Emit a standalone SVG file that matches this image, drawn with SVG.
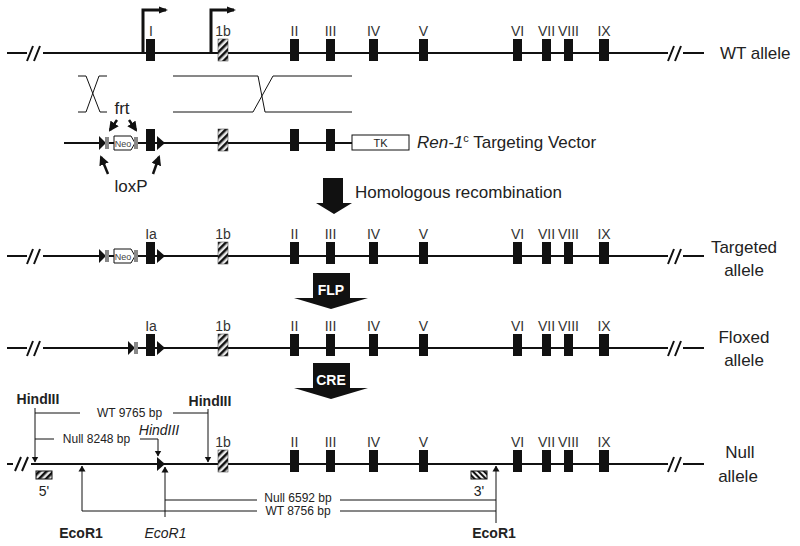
<svg xmlns="http://www.w3.org/2000/svg" width="800" height="546" viewBox="0 0 800 546">
<style>
.ln{stroke:#111;stroke-width:2;fill:none}
.thin{stroke:#111;stroke-width:1;fill:none}
.ex{fill:#111}
.hx{fill:url(#hatchF);stroke:#333;stroke-width:0.5}
.frt{fill:#888}
.lox{fill:#111}
.lbl{font-family:"Liberation Sans",Arial,sans-serif;font-size:14px;fill:#333;text-anchor:middle}
.big{font-family:"Liberation Sans",Arial,sans-serif;font-size:17px;fill:#222}
.bp{font-family:"Liberation Sans",Arial,sans-serif;font-size:12px;fill:#222;text-anchor:middle}
.site{font-family:"Liberation Sans",Arial,sans-serif;font-size:14px;fill:#222;text-anchor:middle}
.blk{font-family:"Liberation Sans",Arial,sans-serif;font-size:14px;font-weight:bold;fill:#fff;text-anchor:middle}
</style>
<defs>
<pattern id="hatchF" width="5" height="5" patternUnits="userSpaceOnUse" patternTransform="rotate(45)">
<rect width="5" height="5" fill="#e8e8e8"/><rect width="2.5" height="5" fill="#111"/>
</pattern>
<pattern id="hatchB" width="4" height="4" patternUnits="userSpaceOnUse" patternTransform="rotate(-45)">
<rect width="4" height="4" fill="#f2f2f2"/><rect width="2" height="4" fill="#111"/>
</pattern>
<marker id="ah" markerWidth="10" markerHeight="10" refX="8" refY="5" orient="auto" markerUnits="userSpaceOnUse">
<path d="M0,0 L10,5 L0,10 Z" fill="#111"/>
</marker>
<marker id="ahT" markerWidth="9" markerHeight="8" refX="7" refY="4" orient="auto" markerUnits="userSpaceOnUse">
<path d="M0,0.5 L9,4 L0,7.5 Z" fill="#111"/>
</marker>
<marker id="ahS" markerWidth="6" markerHeight="8" refX="5.5" refY="4" orient="auto" markerUnits="userSpaceOnUse">
<path d="M0,0.5 L6,4 L0,7.5 Z" fill="#111"/>
</marker>
</defs>
<rect width="800" height="546" fill="#fff"/>

<!-- WT allele -->
<g id="wt-allele">
<path class="ln" d="M7,53 H27 M43,53 H668 M683,53 H704"/>
<path class="ln" d="M27,61 L33,46 M34,61 L40,46 M668,61 L674,46 M675,61 L681,46" stroke-width="1.5"/>
<path d="M143,53 V10 H166" stroke="#111" stroke-width="3" fill="none" marker-end="url(#ahT)"/>
<path d="M211,53 V10 H234" stroke="#111" stroke-width="3" fill="none" marker-end="url(#ahT)"/>
<rect class="ex" x="146" y="39" width="9" height="22"/>
<rect class="hx" x="218" y="39" width="10" height="22"/>
<rect class="ex" x="290" y="39" width="9" height="22"/>
<rect class="ex" x="326" y="39" width="9" height="22"/>
<rect class="ex" x="369" y="39" width="9" height="22"/>
<rect class="ex" x="419" y="39" width="9" height="22"/>
<rect class="ex" x="513" y="39" width="9" height="22"/>
<rect class="ex" x="542" y="39" width="9" height="22"/>
<rect class="ex" x="564" y="39" width="9" height="22"/>
<rect class="ex" x="599" y="39" width="10" height="22"/>
<text class="lbl" x="151" y="36">I</text>
<text class="lbl" x="223" y="36">1b</text>
<text class="lbl" x="294.5" y="36">II</text>
<text class="lbl" x="330.5" y="36">III</text>
<text class="lbl" x="373.5" y="36">IV</text>
<text class="lbl" x="423.5" y="36">V</text>
<text class="lbl" x="517.5" y="36">VI</text>
<text class="lbl" x="546.5" y="36">VII</text>
<text class="lbl" x="568.5" y="36">VIII</text>
<text class="lbl" x="604" y="36">IX</text>
<text class="big" x="720" y="59">WT allele</text>
</g>

<!-- crossovers -->
<g id="crossovers">
<path class="thin" d="M78,76 H86 L100,112 H107 M107,76 H99 L86,112 H78"/>
<path class="thin" d="M173,76 H258 L265,112 H352 M173,112 H253 L273,76 H352"/>
</g>

<!-- targeting vector -->
<g id="targeting-vector">
<path class="ln" d="M64,143 H352"/>
<polygon class="lox" points="99,136 106,143 99,150"/>
<rect class="frt" x="105" y="137" width="4" height="12"/>
<polygon points="114,136 131,136 135,143 131,150 114,150" fill="#fff" stroke="#111" stroke-width="1"/>
<text x="123" y="146.5" font-family="Liberation Sans,Arial,sans-serif" font-size="9" fill="#444" text-anchor="middle">Neo</text>
<rect class="frt" x="134" y="137" width="4" height="12"/>
<rect class="ex" x="146" y="129" width="9" height="22"/>
<polygon class="lox" points="157,136 165,143 157,150"/>
<rect class="hx" x="218" y="129" width="10" height="22"/>
<rect class="ex" x="290" y="129" width="9" height="22"/>
<rect class="ex" x="326" y="129" width="9" height="22"/>
<rect x="352" y="135" width="57" height="15" fill="#fff" stroke="#111" stroke-width="1"/>
<text x="380.5" y="147" font-family="Liberation Sans,Arial,sans-serif" font-size="11" fill="#222" text-anchor="middle">TK</text>
<text class="big" x="417" y="148"><tspan font-style="italic">Ren-1</tspan><tspan font-size="11" dy="-6">c</tspan><tspan dy="6"> Targeting Vector</tspan></text>
</g>

<g id="frt-label">
<text class="big" x="122" y="114" text-anchor="middle">frt</text>
<path d="M117,120 L110,130" stroke="#111" stroke-width="2.5" marker-end="url(#ah)"/>
<path d="M129,120 L136,130" stroke="#111" stroke-width="2.5" marker-end="url(#ah)"/>
</g>
<g id="loxp-label">
<path d="M108,174 L101,157" stroke="#111" stroke-width="2.5" marker-end="url(#ah)"/>
<path d="M153,174 L159,157" stroke="#111" stroke-width="2.5" marker-end="url(#ah)"/>
<text class="big" x="131" y="192" text-anchor="middle">loxP</text>
</g>

<!-- homologous recombination -->
<g id="step-homologous">
<polygon points="323,178 343,178 343,203 352,203 334,214 316,203 323,203" fill="#111"/>
<text class="big" x="355" y="198">Homologous recombination</text>
</g>

<!-- targeted allele -->
<g id="targeted-allele">
<path class="ln" d="M7,256 H27 M43,256 H668 M683,256 H704"/>
<path class="ln" d="M27,264 L33,249 M34,264 L40,249 M668,264 L674,249 M675,264 L681,249" stroke-width="1.5"/>
<polygon class="lox" points="99,249 106,256 99,263"/>
<rect class="frt" x="105" y="250" width="4" height="12"/>
<polygon points="114,249 131,249 135,256 131,263 114,263" fill="#fff" stroke="#111" stroke-width="1"/>
<text x="123" y="259.5" font-family="Liberation Sans,Arial,sans-serif" font-size="9" fill="#444" text-anchor="middle">Neo</text>
<rect class="frt" x="134" y="250" width="4" height="12"/>
<rect class="ex" x="146" y="242" width="9" height="22"/>
<polygon class="lox" points="157,249 165,256 157,263"/>
<rect class="hx" x="218" y="242" width="10" height="22"/>
<rect class="ex" x="290" y="242" width="9" height="22"/>
<rect class="ex" x="326" y="242" width="9" height="22"/>
<rect class="ex" x="369" y="242" width="9" height="22"/>
<rect class="ex" x="419" y="242" width="9" height="22"/>
<rect class="ex" x="513" y="242" width="9" height="22"/>
<rect class="ex" x="542" y="242" width="9" height="22"/>
<rect class="ex" x="564" y="242" width="9" height="22"/>
<rect class="ex" x="599" y="242" width="10" height="22"/>
<text class="lbl" x="151" y="239">Ia</text>
<text class="lbl" x="223" y="239">1b</text>
<text class="lbl" x="294.5" y="239">II</text>
<text class="lbl" x="330.5" y="239">III</text>
<text class="lbl" x="373.5" y="239">IV</text>
<text class="lbl" x="423.5" y="239">V</text>
<text class="lbl" x="517.5" y="239">VI</text>
<text class="lbl" x="546.5" y="239">VII</text>
<text class="lbl" x="568.5" y="239">VIII</text>
<text class="lbl" x="604" y="239">IX</text>
<text class="big" x="744" y="253" text-anchor="middle">Targeted</text>
<text class="big" x="744" y="276" text-anchor="middle">allele</text>
</g>

<g id="step-flp">
<polygon points="313,273 350,273 350,298 368,298 331,309 294,298 313,298" fill="#111"/>
<text class="blk" x="331" y="295">FLP</text>
</g>

<!-- floxed allele -->
<g id="floxed-allele">
<path class="ln" d="M7,348 H27 M43,348 H668 M683,348 H704"/>
<path class="ln" d="M27,356 L33,341 M34,356 L40,341 M668,356 L674,341 M675,356 L681,341" stroke-width="1.5"/>
<polygon class="lox" points="128,341 135,348 128,355"/>
<rect class="frt" x="134" y="342" width="4" height="12"/>
<rect class="ex" x="146" y="334" width="9" height="22"/>
<polygon class="lox" points="157,341 165,348 157,355"/>
<rect class="hx" x="218" y="334" width="10" height="22"/>
<rect class="ex" x="290" y="334" width="9" height="22"/>
<rect class="ex" x="326" y="334" width="9" height="22"/>
<rect class="ex" x="369" y="334" width="9" height="22"/>
<rect class="ex" x="419" y="334" width="9" height="22"/>
<rect class="ex" x="513" y="334" width="9" height="22"/>
<rect class="ex" x="542" y="334" width="9" height="22"/>
<rect class="ex" x="564" y="334" width="9" height="22"/>
<rect class="ex" x="599" y="334" width="10" height="22"/>
<text class="lbl" x="151" y="331">Ia</text>
<text class="lbl" x="223" y="331">1b</text>
<text class="lbl" x="294.5" y="331">II</text>
<text class="lbl" x="330.5" y="331">III</text>
<text class="lbl" x="373.5" y="331">IV</text>
<text class="lbl" x="423.5" y="331">V</text>
<text class="lbl" x="517.5" y="331">VI</text>
<text class="lbl" x="546.5" y="331">VII</text>
<text class="lbl" x="568.5" y="331">VIII</text>
<text class="lbl" x="604" y="331">IX</text>
<text class="big" x="744" y="343" text-anchor="middle">Floxed</text>
<text class="big" x="744" y="366" text-anchor="middle">allele</text>
</g>

<g id="step-cre">
<polygon points="313,363 350,363 350,388 368,388 331,399 294,388 313,388" fill="#111"/>
<text class="blk" x="331" y="385">CRE</text>
</g>

<!-- null allele -->
<g id="null-allele">
<path class="ln" d="M7,464 H13 M31,464 H668 M683,464 H704"/>
<path class="ln" d="M15,471 L21,457 M22,471 L28,457 M668,472 L674,457 M675,472 L681,457" stroke-width="1.5"/>
<polygon class="lox" points="157,457 165,464 157,471"/>
<rect class="hx" x="218" y="450" width="10" height="22"/>
<rect class="ex" x="290" y="450" width="9" height="22"/>
<rect class="ex" x="326" y="450" width="9" height="22"/>
<rect class="ex" x="369" y="450" width="9" height="22"/>
<rect class="ex" x="419" y="450" width="9" height="22"/>
<rect class="ex" x="513" y="450" width="9" height="22"/>
<rect class="ex" x="542" y="450" width="9" height="22"/>
<rect class="ex" x="564" y="450" width="9" height="22"/>
<rect class="ex" x="599" y="450" width="10" height="22"/>
<text class="lbl" x="223" y="447">1b</text>
<text class="lbl" x="294.5" y="447">II</text>
<text class="lbl" x="330.5" y="447">III</text>
<text class="lbl" x="373.5" y="447">IV</text>
<text class="lbl" x="423.5" y="447">V</text>
<text class="lbl" x="517.5" y="447">VI</text>
<text class="lbl" x="546.5" y="447">VII</text>
<text class="lbl" x="568.5" y="447">VIII</text>
<text class="lbl" x="604" y="447">IX</text>
<text class="big" x="740" y="458" text-anchor="middle">Null</text>
<text class="big" x="738" y="482" text-anchor="middle">allele</text>
</g>

<g id="probes">
<rect x="36" y="471" width="16" height="8" fill="url(#hatchF)" stroke="#111" stroke-width="1"/>
<text class="site" x="44" y="496">5'</text>
<rect x="471" y="471" width="16" height="8" fill="url(#hatchB)" stroke="#111" stroke-width="1"/>
<text class="site" x="479" y="496">3'</text>
</g>

<!-- restriction sites and fragments -->
<g id="restriction-sites">
<text class="site" x="38" y="404" font-weight="bold">HindIII</text>
<text class="site" x="210" y="406" font-weight="bold">HindIII</text>
<text class="site" x="159" y="435" font-style="italic">HindIII</text>
<text class="site" x="81" y="538" font-weight="bold">EcoR1</text>
<text class="site" x="165.5" y="538" font-style="italic">EcoR1</text>
<text class="site" x="494" y="538" font-weight="bold">EcoR1</text>
</g>

<g id="connectors">
<path class="thin" d="M35,408 V462" marker-end="url(#ahS)"/>
<path class="thin" d="M208,409 V462" marker-end="url(#ahS)"/>
<path class="thin" d="M158,439 V456" marker-end="url(#ahS)"/>
<path class="thin" d="M82,511 V466" marker-end="url(#ahS)"/>
<path class="thin" d="M165,517 V467" marker-end="url(#ahS)"/>
<path class="thin" d="M496,523 V466" marker-end="url(#ahS)"/>
<path class="thin" d="M35,413 H80 M173,413 H208"/>
<path class="thin" d="M35,439 H54 M140,439 H158"/>
<path class="thin" d="M165,500 H257 M340,500 H496"/>
<path class="thin" d="M82,511 H257 M340,511 H496"/>
<text class="bp" x="129.5" y="417">WT 9765 bp</text>
<text class="bp" x="96.5" y="443">Null 8248 bp</text>
<text class="bp" x="298" y="502">Null 6592 bp</text>
<text class="bp" x="298" y="515">WT 8756 bp</text>
</g>
</svg>
